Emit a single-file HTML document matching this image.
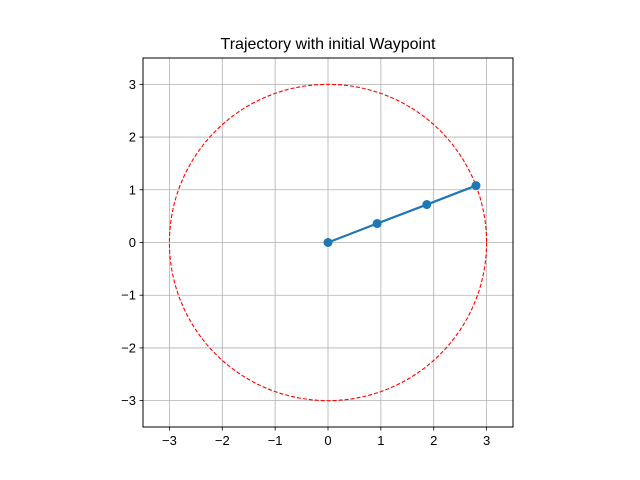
<!DOCTYPE html>
<html><head><meta charset="utf-8"><style>
html,body{margin:0;padding:0;background:#fff;}
svg{display:block;font-family:"Liberation Sans","DejaVu Sans",sans-serif;}
</style></head><body>
<svg id="chart" width="640" height="480" viewBox="0 0 640 480">
<rect width="640" height="480" fill="#fff"/>
<text x="328" y="49" font-size="16" text-anchor="middle">Trajectory with initial Waypoint</text>
<g id="grid"></g>
<g id="circle"></g>
<g id="traj"></g>
<rect x="143" y="58" width="370" height="369" fill="none" stroke="#000" stroke-width="1"/>
<g id="ticks"></g>
</svg>
<script>
const xTicks=[-3,-2,-1,0,1,2,3];
const yTicks=[-3,-2,-1,0,1,2,3];
const tickLabels=["\u22123","\u22122","\u22121","0","1","2","3"];
const trajX=[0,0.93,1.87,2.8];
const trajY=[0,0.36,0.72,1.08];
const circleRadius=[3];
const L=143,R=513,T=58,B=427,min=-3.5,max=3.5;
const sx=v=>L+(v-min)/(max-min)*(R-L);
const sy=v=>B-(v-min)/(max-min)*(B-T);
const NS="http://www.w3.org/2000/svg";
function mk(tag,attrs,parent){const e=document.createElementNS(NS,tag);for(const k in attrs)e.setAttribute(k,attrs[k]);document.getElementById(parent).appendChild(e);return e;}
xTicks.forEach((v,i)=>{
 const g=mk('line',{x1:sx(v),x2:sx(v),y1:T,y2:B,stroke:'#b0b0b0','stroke-width':0.8},'grid');
 
 
 const t=mk('line',{x1:sx(v),x2:sx(v),y1:B,y2:B+3.5,stroke:'#000','stroke-width':0.8},'ticks');
 
 
 const l=mk('text',{x:sx(v),y:B+18,'font-size':13,'text-anchor':'middle'},'ticks');
 l.textContent=tickLabels[i];
 
 
});
yTicks.forEach((v,i)=>{
 const g=mk('line',{x1:L,x2:R,y1:sy(v),y2:sy(v),stroke:'#b0b0b0','stroke-width':0.8},'grid');
 
 
 const t=mk('line',{x1:L-3.5,x2:L,y1:sy(v),y2:sy(v),stroke:'#000','stroke-width':0.8},'ticks');
 
 
 const l=mk('text',{x:L-7,y:sy(v)+4.5,'font-size':13,'text-anchor':'end'},'ticks');
 l.textContent=tickLabels[i];
 
 
});
const r=circleRadius[0];
const c=mk('ellipse',{cx:sx(0),cy:sy(0),rx:sx(r)-sx(0),ry:sy(0)-sy(r),fill:'none',stroke:'#ff0000','stroke-width':1.1,'stroke-dasharray':'4,2'},'circle');


const pts=trajX.map((x,i)=>sx(x)+','+sy(trajY[i])).join(' ');
const pl=mk('polyline',{points:pts,fill:'none',stroke:'#1f77b4','stroke-width':2.2},'traj');


trajX.forEach((x,i)=>{
 const p=mk('circle',{cx:sx(x),cy:sy(trajY[i]),r:4.5,fill:'#1f77b4'},'traj');
 
 
});
</script>
</body></html>
